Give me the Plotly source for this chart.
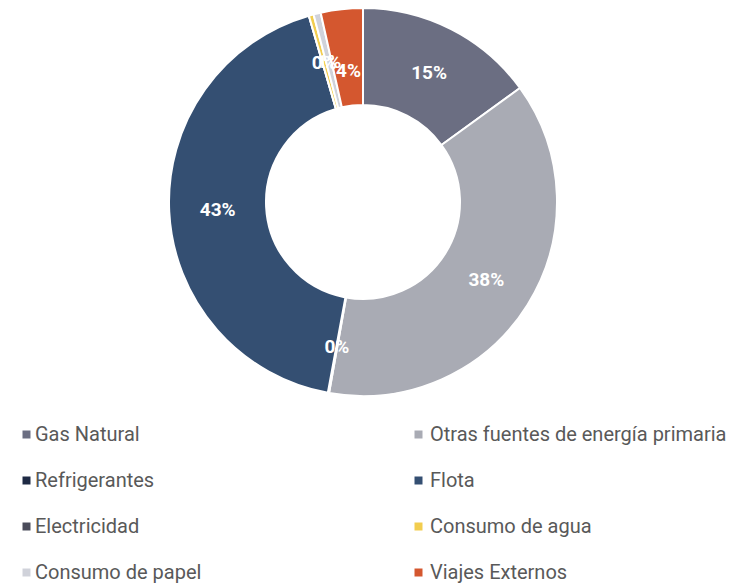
import plotly.graph_objects as go

categories = ["Gas Natural", "Otras fuentes de energía primaria", "Refrigerantes", "Flota",
              "Electricidad", "Consumo de agua", "Consumo de papel", "Viajes Externos"]
values = [15.0, 37.8, 0.1, 42.6, 0.0, 0.4, 0.6, 3.5]
colors = ["#6b6e82", "#a9abb4", "#1e2a44", "#344f72", "#4a4c5a", "#f2cd4f", "#d0d2da", "#d4572f"]

# page body has an 8px margin; figure sized so it fits the 748x584 window
OFF = 8
W, H = 740, 576

# reference-pixel geometry of the donut
CX, CY = 363 - OFF, 202 - OFF
R_OUT, R_MID = 194, 147

def dom(r):
    cx, cy = CX / W, 1 - CY / H
    return dict(x=[cx - 1.6 * r / W, cx + 1.6 * r / W], y=[cy - r / H, cy + r / H])

label_fmt = "%{percent:.0%}"
big_text = [label_fmt if v >= 5 else "" for v in values]
small_text = [label_fmt if 0 < v < 5 else "" for v in values]
label_font = dict(family="Roboto", size=19, color="white", weight="bold")

fig = go.Figure()
fig.add_trace(go.Pie(
    labels=categories, values=values, hole=0.5, sort=False,
    direction="clockwise", rotation=0,
    marker=dict(colors=colors, line=dict(color="white", width=2)),
    textposition="inside", insidetextorientation="horizontal",
    texttemplate=big_text, textfont=label_font,
    domain=dom(R_OUT), showlegend=False,
))
# label layer for the narrow slices, centred on the middle of the ring
fig.add_trace(go.Pie(
    labels=categories, values=values, hole=0, sort=False,
    direction="clockwise", rotation=0,
    marker=dict(colors=["rgba(0,0,0,0)"] * len(values), line=dict(width=0)),
    textposition="inside", insidetextorientation="horizontal",
    texttemplate=small_text, textfont=label_font,
    domain=dom(R_MID), showlegend=False, hoverinfo="skip",
))

# Two-column legend below the donut (row-wise order as in the reference)
col_text_x = [35, 430]
col_mark_x = [26.5, 418.5]
row_y = [434.5, 480.5, 526.5, 572.5]
for i, (name, col) in enumerate(zip(categories, colors)):
    r, c = divmod(i, 2)
    yc = row_y[r] - OFF
    mx = col_mark_x[c] - OFF
    fig.add_shape(type="rect", xref="paper", yref="paper",
                  x0=(mx - 4) / W, x1=(mx + 4) / W,
                  y0=1 - (yc + 4) / H, y1=1 - (yc - 4) / H,
                  fillcolor=col, line=dict(width=0))
    fig.add_annotation(x=(col_text_x[c] - OFF - 2) / W, y=1 - (yc - 0.5) / H,
                       xref="paper", yref="paper",
                       text=name, showarrow=False, xanchor="left", yanchor="middle",
                       font=dict(family="Roboto", size=20, color="#595959"))

fig.update_layout(
    width=W, height=H,
    margin=dict(l=0, r=0, t=0, b=0),
    paper_bgcolor="white",
    plot_bgcolor="white",
    uniformtext=dict(minsize=19, mode="show"),
)

fig.write_html("out.html")
